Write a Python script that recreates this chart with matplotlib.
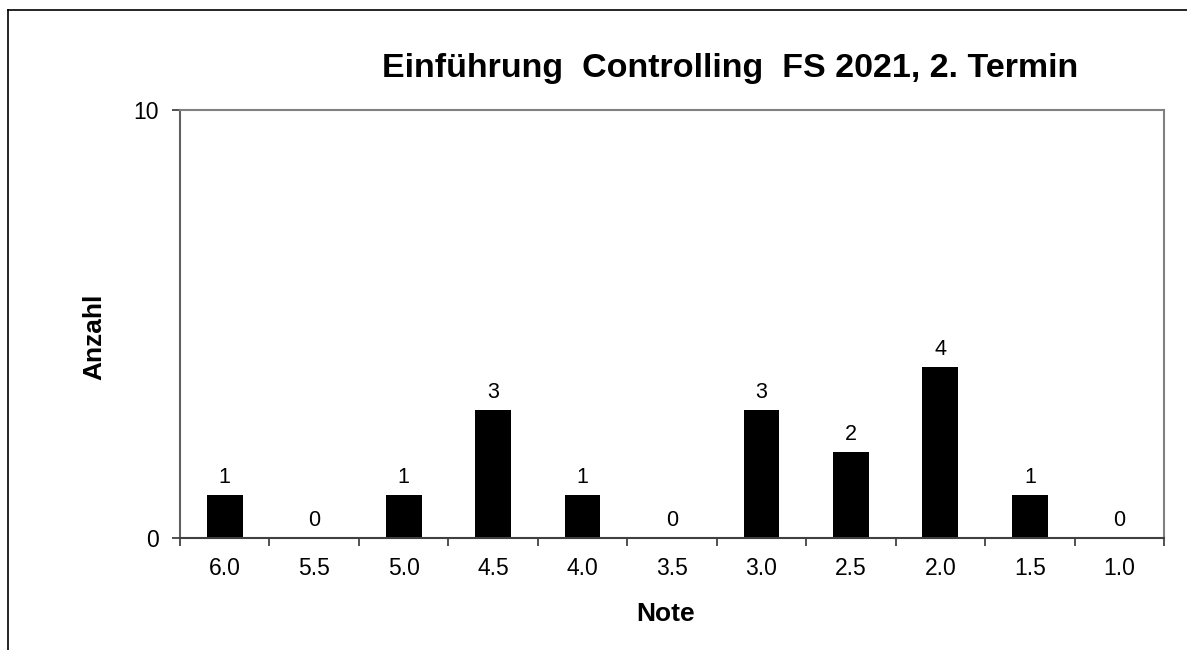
import matplotlib.pyplot as plt
from matplotlib.lines import Line2D
import numpy as np

noten = ["6.0", "5.5", "5.0", "4.5", "4.0", "3.5", "3.0", "2.5", "2.0", "1.5", "1.0"]
anzahl = [1, 0, 1, 3, 1, 0, 3, 2, 4, 1, 0]

plt.rcParams['font.family'] = ['Liberation Sans', 'DejaVu Sans']

fig = plt.figure(figsize=(11.87, 6.5), dpi=100)
ax = fig.add_axes([180 / 1187, 1 - 538 / 650, 984 / 1187, 428 / 650])

x = np.arange(len(noten))
ax.bar(x, anzahl, width=0.4, color='black')

for xi, v in zip(x, anzahl):
    ax.annotate(str(v), (xi, v), xytext=(0, 8.6), textcoords='offset points',
                ha='center', va='baseline', fontsize=15.5)

ax.set_xlim(-0.5, len(noten) - 0.5)
ax.set_ylim(0, 10)
ax.set_yticks([0, 10])
ax.set_xticks(x)
ax.set_xticklabels(noten)
ax.set_xticks(np.arange(-0.5, len(noten)), minor=True)
ax.tick_params(axis='x', which='major', length=0, labelsize=16.5, pad=14)
ax.tick_params(axis='x', which='minor', length=5.5, width=1.2, color='#333333', direction='out')
ax.tick_params(axis='y', length=5.5, width=1.2, color='#333333', labelsize=16.5, pad=9.5)

for s in ax.spines.values():
    s.set_color('#808080')
    s.set_linewidth(1.5)
ax.spines['bottom'].set_color('#404040')
ax.spines['left'].set_color('#606060')

ax.set_xlabel('Note', fontsize=19, fontweight='bold', va='center')
ax.xaxis.set_label_coords(0.493, -0.178)
ax.set_ylabel('Anzahl', fontsize=19, fontweight='bold', va='center')
ax.yaxis.set_label_coords(-0.087, 0.47)

fig.text(730 / 1187, 1 - 77 / 650, 'Einführung  Controlling  FS 2021, 2. Termin',
         ha='center', va='baseline', fontsize=24.5, fontweight='bold')

# Rahmen oben und links
fig.add_artist(Line2D([8 / 1187, 1], [1 - 10 / 650, 1 - 10 / 650], color='black', lw=1.2))
fig.add_artist(Line2D([8 / 1187, 8 / 1187], [0, 1 - 10 / 650], color='black', lw=1.2))

fig.savefig('out.png', dpi=100)
